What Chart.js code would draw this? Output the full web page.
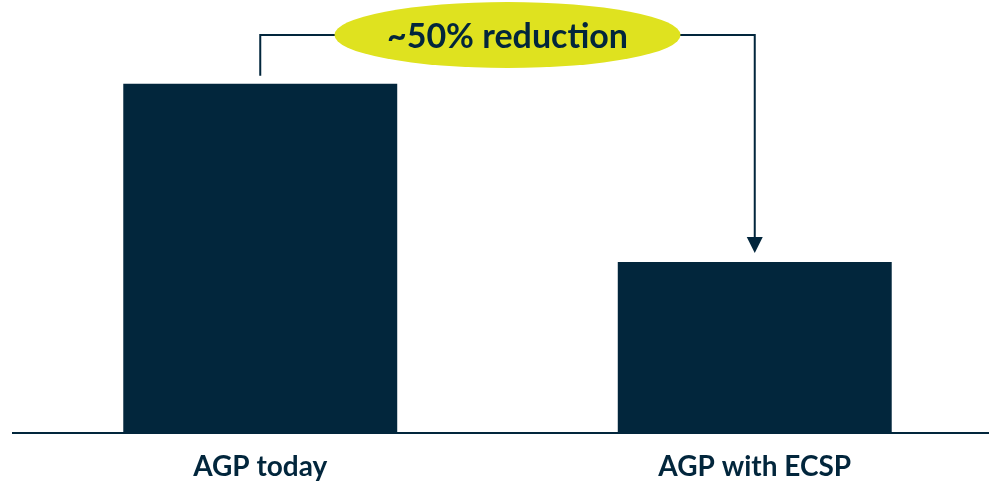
<!DOCTYPE html>
<html>
<head>
<meta charset="utf-8">
<script src="https://cdn.jsdelivr.net/npm/chart.js@4"></script>
<style>
  html, body { margin: 0; padding: 0; background: #fff; overflow: hidden; }
  .wrap { position: relative; width: 1002px; height: 482px; }
</style>
</head>
<body>
<div class="wrap"><canvas id="chart"></canvas></div>
<script>
  // dados do gráfico
  const categorias = ["AGP today", "AGP with ECSP"];
  const valores = [100, 49];
  const rotuloReducao = "~50% reduction";

  const NAVY = "#02263c";
  const AMARELO = "#dfe21f";
  const FONTE = "Lato, 'Open Sans', sans-serif";

  // seta em colchete ligando as duas barras, com a elipse no meio
  const setaReducao = {
    id: "setaReducao",
    afterDatasetsDraw(chart) {
      const { ctx, scales: { x, y } } = chart;
      const x1 = x.getPixelForValue(0);
      const x2 = x.getPixelForValue(1);
      const topo1 = y.getPixelForValue(valores[0]);
      const topo2 = y.getPixelForValue(valores[1]);
      const yLinha = 35;
      const cx = (x1 + x2) / 2;

      ctx.save();
      ctx.strokeStyle = NAVY;
      ctx.fillStyle = NAVY;
      ctx.lineWidth = 2;

      ctx.beginPath();
      ctx.moveTo(x1, topo1 - 8);
      ctx.lineTo(x1, yLinha);
      ctx.lineTo(x2, yLinha);
      ctx.lineTo(x2, topo2 - 24);
      ctx.stroke();

      // ponta da seta
      ctx.beginPath();
      ctx.moveTo(x2 - 8, topo2 - 25);
      ctx.lineTo(x2 + 8, topo2 - 25);
      ctx.lineTo(x2, topo2 - 9);
      ctx.closePath();
      ctx.fill();

      ctx.beginPath();
      ctx.ellipse(cx, yLinha, 173, 33, 0, 0, Math.PI * 2);
      ctx.fillStyle = AMARELO;
      ctx.fill();

      ctx.fillStyle = NAVY;
      ctx.font = "bold 34px " + FONTE;
      ctx.textAlign = "center";
      ctx.textBaseline = "middle";
      ctx.fillText(rotuloReducao, cx, yLinha + 2);
      ctx.restore();
    }
  };

  new Chart(document.getElementById("chart"), {
    type: "bar",
    data: {
      labels: categorias,
      datasets: [{
        data: valores,
        backgroundColor: NAVY,
        borderWidth: 0,
        barPercentage: 1,
        categoryPercentage: 0.554
      }]
    },
    options: {
      responsive: true,
      maintainAspectRatio: false,
      animation: false,
      layout: { padding: { top: 0, left: 13, right: 0, bottom: 0 } },
      plugins: { legend: { display: false }, tooltip: { enabled: false } },
      scales: {
        x: {
          grid: { display: false },
          border: { display: true, color: NAVY, width: 2 },
          ticks: {
            color: NAVY,
            padding: 9,
            font: { family: FONTE, size: 28, weight: "bold" }
          },
          afterFit(scale) { scale.height = 49; }
        },
        y: {
          display: false,
          min: 0,
          max: 124
        }
      }
    },
    plugins: [setaReducao]
  });
</script>
</body>
</html>
